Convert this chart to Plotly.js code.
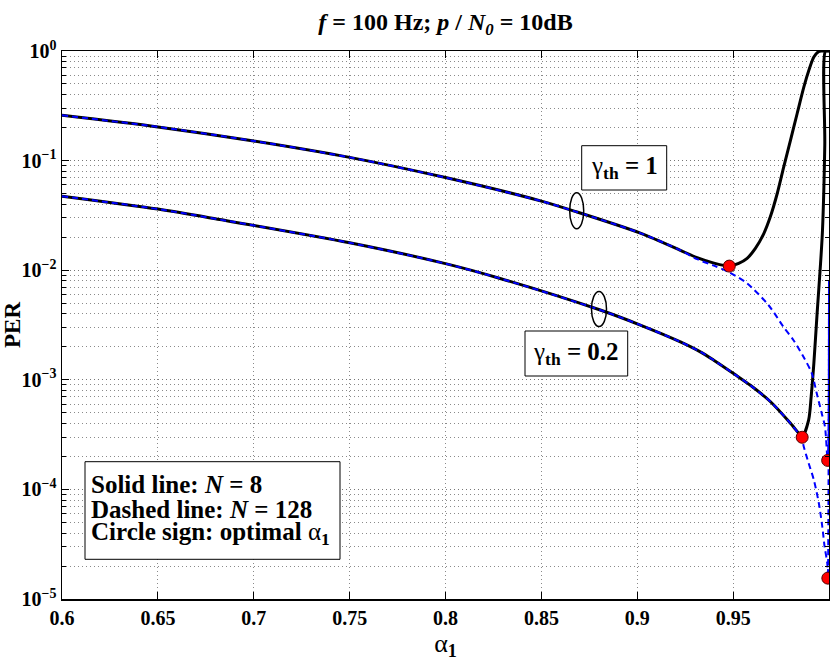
<!DOCTYPE html>
<html>
<head>
<meta charset="utf-8">
<script src="https://cdn.plot.ly/plotly-3.0.1.min.js"></script>
<style>html,body{margin:0;padding:0;background:#fff;}#chart{width:830px;height:661px;}</style>
</head>
<body>
<div id="chart"></div>
<script>
// ---- data ----
// gamma_th = 1, N = 8 (solid)
const alphaG1N8 = [0.6, 0.65, 0.7, 0.75, 0.8, 0.85, 0.8685, 0.9016, 0.9225, 0.9312, 0.94, 0.948, 0.9529, 0.9573, 0.9616, 0.966, 0.9694, 0.973, 0.9764, 0.9799, 0.9834, 0.9869, 0.9895, 0.9921, 0.9945, 0.996, 1.0];
const perG1N8   = [0.259, 0.203, 0.151, 0.107, 0.070, 0.0427, 0.034, 0.0218, 0.0152, 0.0130, 0.0116, 0.0109, 0.01153, 0.01282, 0.0158, 0.0216, 0.0307, 0.0501, 0.0877, 0.153, 0.269, 0.47, 0.667, 0.881, 0.985, 1.0, 1.0];
// gamma_th = 1, N = 128 (dashed)
const alphaG1N128 = [0.6, 0.65, 0.7, 0.75, 0.8, 0.85, 0.8685, 0.9016, 0.9225, 0.9312, 0.94, 0.948, 0.9573, 0.9685, 0.9762, 0.9814, 0.9866, 0.991, 0.9936, 0.9962, 0.9979, 0.9993, 1.0];
const perG1N128   = [0.259, 0.203, 0.151, 0.107, 0.070, 0.0427, 0.034, 0.0218, 0.0152, 0.0126, 0.0110, 0.00955, 0.00759, 0.00479, 0.00305, 0.00231, 0.00163, 0.00115, 0.000753, 0.000495, 0.000373, 0.000184, 0.0081];
// gamma_th = 0.2, N = 8 (solid)
const alphaG02N8 = [0.6, 0.65, 0.6822, 0.75, 0.8, 0.8285, 0.8807, 0.9016, 0.9225, 0.9329, 0.9399, 0.9512, 0.959, 0.9695, 0.9799, 0.9842, 0.986, 0.9894, 0.9907, 0.9921, 0.9938, 0.9956, 0.9966, 0.9978, 0.9982, 1.0];
const perG02N8   = [0.0473, 0.0361, 0.029, 0.0178, 0.01148, 0.00841, 0.00433, 0.00316, 0.00222, 0.0018, 0.00151, 0.00111, 0.000891, 0.000631, 0.000401, 0.000325, 0.000299, 0.000431, 0.000702, 0.00141, 0.00404, 0.01153, 0.023, 0.138, 1.0, 1.0];
// gamma_th = 0.2, N = 128 (dashed)
const alphaG02N128 = [0.6, 0.65, 0.6822, 0.75, 0.8, 0.8285, 0.8807, 0.9016, 0.9225, 0.9329, 0.9399, 0.9512, 0.959, 0.9695, 0.9799, 0.9842, 0.986, 0.98685, 0.9894, 0.9921, 0.9947, 0.9965, 0.9977, 0.9991, 0.9994, 1.0];
const perG02N128   = [0.0473, 0.0361, 0.029, 0.0178, 0.01148, 0.00841, 0.00433, 0.00316, 0.00222, 0.0018, 0.00151, 0.00111, 0.000891, 0.000631, 0.000401, 0.000322, 0.000285, 0.000245, 0.000173, 0.000122, 0.0000748, 0.0000458, 0.0000301, 0.0000212, 0.0000155, 0.0081];
// optimal alpha_1 points
const alphaOpt = [0.948, 0.986, 0.9993, 0.9994];
const perOpt   = [0.0109, 0.000299, 0.000184, 0.0000155];

// ticks
const xTickVals = [0.6, 0.65, 0.7, 0.75, 0.8, 0.85, 0.9, 0.95, 1];
const xTickText = ['0.6', '0.65', '0.7', '0.75', '0.8', '0.85', '0.9', '0.95', '1'];
const yTickVals = [1e-5, 1e-4, 1e-3, 1e-2, 1e-1, 1];
const yTickText = ['10<sup>−5</sup>', '10<sup>−4</sup>', '10<sup>−3</sup>', '10<sup>−2</sup>', '10<sup>−1</sup>', '10<sup>0</sup>'];
const minorMantissas = [2, 3, 4, 5, 6, 7, 8, 9];
const decades = [1e-5, 1e-4, 1e-3, 1e-2, 1e-1];
const yMinorVals = [];
decades.forEach(d => minorMantissas.forEach(m => yMinorVals.push(m * d)));

const serif = 'Liberation Serif, Times New Roman, serif';
const gridDash = '1px,3px';

const solid = {color: '#000', width: 3, shape: 'spline', smoothing: 0.8};
const dashed = {color: '#0000ff', width: 2, dash: '6px,4px', shape: 'spline', smoothing: 0.8};

const traces = [
  {x: alphaG1N8, y: perG1N8, mode: 'lines', line: solid, hoverinfo: 'skip'},
  {x: alphaG02N8, y: perG02N8, mode: 'lines', line: solid, hoverinfo: 'skip'},
  {x: alphaG1N128, y: perG1N128, mode: 'lines', line: dashed, hoverinfo: 'skip'},
  {x: alphaG02N128, y: perG02N128, mode: 'lines', line: dashed, hoverinfo: 'skip'},
  {x: alphaOpt, y: perOpt, mode: 'markers', cliponaxis: false,
   marker: {color: '#ff0000', size: 12, line: {color: '#500', width: 1}}, hoverinfo: 'skip'}
];

function px(x){ return (x - 62) / 767; }
function py(y){ return 1 - (y - 51) / 548; }

const layout = {
  width: 830, height: 661,
  margin: {l: 62, r: 1, t: 51, b: 62},
  paper_bgcolor: '#fff', plot_bgcolor: '#fff',
  showlegend: false,
  font: {family: serif, color: '#000'},
  title: {
    text: '<b><i>f</i> = 100 Hz; <i>p</i> / <i>N</i><sub><i>0</i></sub> = 10dB</b>',
    font: {family: serif, size: 24, color: '#000'},
    x: 0.5, xref: 'paper', y: 1 - 22 / 661, yref: 'container', yanchor: 'middle'
  },
  xaxis: {
    range: [0.6, 1], tickmode: 'array', tickvals: xTickVals, ticktext: xTickText,
    ticks: 'inside', ticklen: 7, tickwidth: 1, tickcolor: '#000', mirror: 'allticks',
    showline: true, linecolor: '#000', linewidth: 1.5,
    showgrid: true, gridcolor: '#8a8a8a', griddash: gridDash, gridwidth: 1,
    zeroline: false,
    tickfont: {family: serif, size: 20, color: '#000', weight: 'bold'},
    title: {text: 'α<sub><b>1</b></sub>', font: {family: serif, size: 26, color: '#000'}, standoff: 8}
  },
  yaxis: {
    type: 'log', range: [-5, 0], tickmode: 'array', tickvals: yTickVals, ticktext: yTickText,
    ticks: 'inside', ticklen: 7, tickwidth: 1, tickcolor: '#000', mirror: 'allticks',
    showline: true, linecolor: '#000', linewidth: 1.5,
    showgrid: true, gridcolor: '#777', griddash: gridDash, gridwidth: 1,
    zeroline: false,
    tickfont: {family: serif, size: 20, color: '#000', weight: 'bold'},
    minor: {tickmode: 'array', tickvals: yMinorVals, ticks: 'inside', ticklen: 4, tickcolor: '#000',
            showgrid: true, gridcolor: '#8a8a8a', griddash: gridDash, gridwidth: 1},
    title: {text: '<b>PER</b>', font: {family: serif, size: 23, color: '#000'}, standoff: 8}
  },
  shapes: [
    {type: 'rect', xref: 'paper', yref: 'paper', x0: px(581.7), x1: px(666.7), y0: py(190), y1: py(145.7), line: {color: '#000', width: 1}, fillcolor: '#fff'},
    {type: 'rect', xref: 'paper', yref: 'paper', x0: px(525), x1: px(627.7), y0: py(376), y1: py(331), line: {color: '#000', width: 1}, fillcolor: '#fff'},
    {type: 'circle', xref: 'paper', yref: 'paper', x0: px(569.7), x1: px(583.7), y0: py(228.7), y1: py(192.7), line: {color: '#000', width: 1.5}},
    {type: 'circle', xref: 'paper', yref: 'paper', x0: px(591.5), x1: px(606.5), y0: py(326.5), y1: py(291.5), line: {color: '#000', width: 1.5}},
    {type: 'rect', xref: 'paper', yref: 'paper', x0: px(85), x1: px(340), y0: py(559.3), y1: py(461.7), line: {color: '#000', width: 1}, fillcolor: '#fff'}
  ],
  annotations: [
    {xref: 'paper', yref: 'paper', x: px(624.2), y: py(167.9), xanchor: 'center', yanchor: 'middle', showarrow: false,
     text: 'γ<b><sub>th</sub> = 1</b>', font: {family: serif, size: 25, color: '#000'}},
    {xref: 'paper', yref: 'paper', x: px(576.4), y: py(353.5), xanchor: 'center', yanchor: 'middle', showarrow: false,
     text: 'γ<b><sub>th</sub> = 0.2</b>', font: {family: serif, size: 25, color: '#000'}},
    {xref: 'paper', yref: 'paper', x: px(89), y: py(484), xanchor: 'left', yanchor: 'middle', showarrow: false,
     text: '<b>Solid line: <i>N</i> = 8</b>', font: {family: serif, size: 25, color: '#000'}},
    {xref: 'paper', yref: 'paper', x: px(89), y: py(509), xanchor: 'left', yanchor: 'middle', showarrow: false,
     text: '<b>Dashed line: <i>N</i> = 128</b>', font: {family: serif, size: 25, color: '#000'}},
    {xref: 'paper', yref: 'paper', x: px(89), y: py(533), xanchor: 'left', yanchor: 'middle', showarrow: false,
     text: '<b>Circle sign: optimal </b>α<sub><b>1</b></sub>', font: {family: serif, size: 25, color: '#000'}}
  ]
};

Plotly.newPlot('chart', traces, layout, {displayModeBar: false, staticPlot: true});
</script>
</body>
</html>
